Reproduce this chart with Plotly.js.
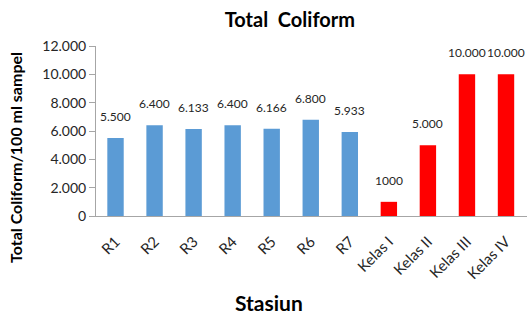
<!DOCTYPE html>
<html>
<head>
<meta charset="utf-8">
<script src="https://cdn.plot.ly/plotly-3.0.1.min.js"></script>
<style>html,body{margin:0;padding:0;background:#fff;}#chart{width:527px;height:316px;}</style>
</head>
<body>
<div id="chart"></div>
<script>
const categories = ["R1","R2","R3","R4","R5","R6","R7","Kelas I","Kelas II","Kelas III","Kelas IV"];
const values = [5500, 6400, 6133, 6400, 6166, 6800, 5933, 1000, 5000, 10000, 10000];
const labels = ["5.500","6.400","6.133","6.400","6.166","6.800","5.933","1000","5.000","10.000","10.000"];
const stationCount = 7;
const yTicks = [0, 2000, 4000, 6000, 8000, 10000, 12000];
const yTickText = ["0","2.000","4.000","6.000","8.000","10.000","12.000"];

const FONT = "Lato, 'Open Sans', sans-serif";
const colors = categories.map((c, i) => i < stationCount ? "#5B9BD5" : "#FF0000");

const trace = {
  type: "bar",
  x: categories,
  y: values,
  marker: {color: colors},
  hoverinfo: "none"
};

const annotations = categories.map((c, i) => ({
  x: c, y: values[i], xref: "x", yref: "y",
  text: labels[i], showarrow: false,
  yanchor: "bottom", yshift: 12,
  font: {family: FONT, size: 12, color: "#262626"}
}));
annotations.push({
  xref: "paper", yref: "paper", x: -0.188, y: 0.347,
  text: "<b>Total Coliform/100 ml sampel</b>", textangle: -90,
  showarrow: false, xanchor: "center", yanchor: "middle",
  font: {family: FONT, size: 16, color: "#000"}
});
annotations.push({
  xref: "paper", yref: "paper", x: 0.401, y: -0.51,
  text: "<b>Stasiun</b>",
  showarrow: false, xanchor: "center", yanchor: "middle",
  font: {family: FONT, size: 21, color: "#000"}
});

const layout = {
  width: 527, height: 316,
  margin: {l: 96, r: 0, t: 46, b: 100},
  paper_bgcolor: "#fff", plot_bgcolor: "#fff",
  showlegend: false,
  bargap: 0.58,
  title: {text: "<b>Total  Coliform</b>", x: 0.55, xanchor: "center", y: 0.937, yanchor: "middle",
          font: {family: FONT, size: 20, color: "#000"}},
  xaxis: {
    tickangle: -45,
    tickfont: {family: FONT, size: 15, color: "#262626"},
    ticklabelstandoff: 10,
    showline: true, linecolor: "#A6A6A6", linewidth: 1,
    ticks: "", showgrid: false, zeroline: false
  },
  yaxis: {
    range: [0, 12000],
    tickvals: yTicks, ticktext: yTickText,
    tickfont: {family: FONT, size: 14, color: "#262626"},
    showline: true, linecolor: "#A6A6A6", linewidth: 1,
    ticks: "outside", ticklen: 6, tickcolor: "#A6A6A6",
    showgrid: false, zeroline: false
  },
  annotations: annotations
};

Plotly.newPlot("chart", [trace], layout, {staticPlot: true, displayModeBar: false});
</script>
</body>
</html>
